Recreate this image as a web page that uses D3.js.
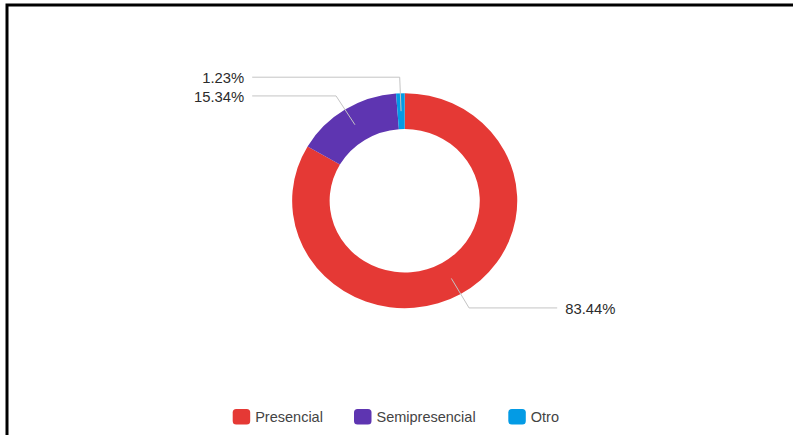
<!DOCTYPE html>
<html>
<head>
<meta charset="utf-8">
<script src="https://cdn.jsdelivr.net/npm/d3@7"></script>
<style>
  html, body { margin: 0; padding: 0; background: #ffffff; }
  svg { display: block; }
</style>
</head>
<body>
<div id="chart"></div>
<script>
// data
const categories = ["Presencial", "Semipresencial", "Otro"];
const values = [83.44, 15.34, 1.23];
const labels = ["83.44%", "15.34%", "1.23%"];
const colors = ["#e53935", "#5e35b1", "#039be5"];

const width = 793, height = 435;
const cx = 404.7, cy = 200.7;
const outerR = 107.5, innerR = 71.7;
const sx = 1.047; // picture is a bit wider than tall

const svg = d3.select("#chart").append("svg")
  .attr("width", width)
  .attr("height", height);

// frame: only top and left edges are visible
svg.append("path")
  .attr("d", `M7,${height} V5 H${width}`)
  .attr("fill", "none")
  .attr("stroke", "#000")
  .attr("stroke-width", 3);

const data = categories.map((c, i) => ({ name: c, value: values[i], label: labels[i], color: colors[i] }));

const pie = d3.pie()
  .sort(null)
  .value(d => d.value);

const arc = d3.arc()
  .innerRadius(innerR)
  .outerRadius(outerR);

const arcs = pie(data);

const g = svg.append("g")
  .attr("transform", `translate(${cx},${cy}) scale(${sx},1)`);

g.selectAll("path")
  .data(arcs)
  .join("path")
  .attr("d", arc)
  .attr("fill", d => d.data.color);

// leader lines + labels
const midR = (innerR + outerR) / 2;
const lineR = midR + 34;
const reach = 152.5;

const labelG = svg.append("g");

arcs.forEach(a => {
  const ang = (a.startAngle + a.endAngle) / 2;
  const right = ang < Math.PI;
  const p1 = [cx + sx * midR * Math.sin(ang), cy - midR * Math.cos(ang)];
  const p2 = [cx + sx * lineR * Math.sin(ang), cy - lineR * Math.cos(ang)];
  const p3 = [right ? cx + reach : cx - reach, p2[1]];

  labelG.append("path")
    .attr("d", d3.line()([p1, p2, p3]))
    .attr("fill", "none")
    .attr("stroke", "#c4c4c4")
    .attr("stroke-width", 1);

  labelG.append("text")
    .attr("x", right ? p3[0] + 8 : p3[0] - 8)
    .attr("y", p3[1] + 0.5)
    .attr("dy", "0.35em")
    .attr("text-anchor", right ? "start" : "end")
    .attr("font-family", "Liberation Sans, Arial, sans-serif")
    .attr("font-size", "14.8px")
    .attr("fill", "#2b2b2b")
    .text(a.data.label);
});

// legend
const legendX = [232.7, 354, 508.3];
const legend = svg.append("g")
  .attr("font-family", "Liberation Sans, Arial, sans-serif")
  .attr("font-size", "14.5px");

data.forEach((d, i) => {
  const item = legend.append("g")
    .attr("transform", `translate(${legendX[i]},409)`);
  item.append("rect")
    .attr("width", 17.5)
    .attr("height", 15.5)
    .attr("rx", 3.5)
    .attr("fill", d.color);
  item.append("text")
    .attr("x", 22.5)
    .attr("y", 7.8)
    .attr("dy", "0.35em")
    .attr("fill", "#444")
    .text(d.name);
});
</script>
</body>
</html>
